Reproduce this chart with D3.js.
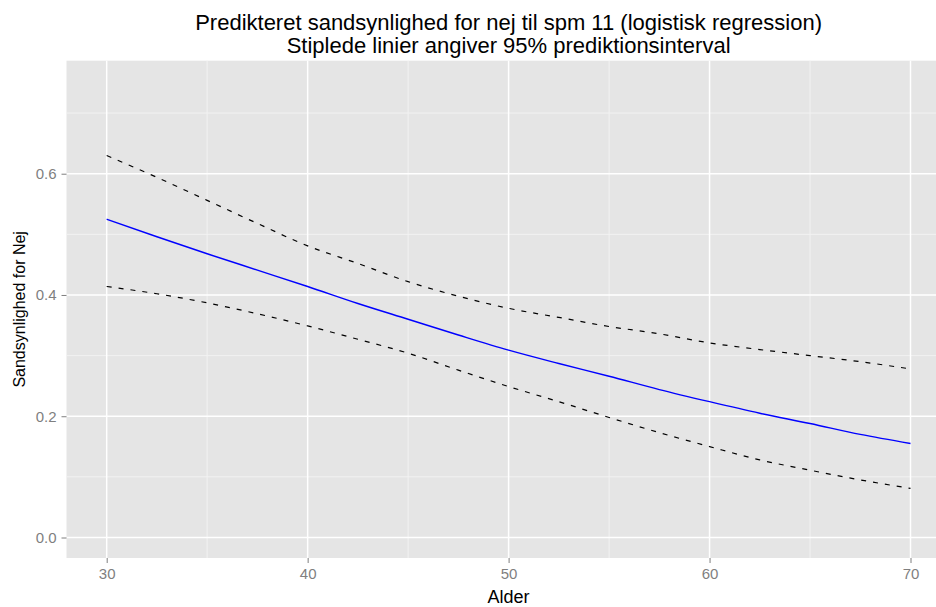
<!DOCTYPE html>
<html>
<head>
<meta charset="utf-8">
<script src="https://cdn.jsdelivr.net/npm/d3@7"></script>
<style>
  body { margin: 0; background: #fff; }
  text { font-family: "Liberation Sans", Arial, sans-serif; }
</style>
</head>
<body>
<div id="chart"></div>
<script>
// Ages and predicted probabilities
const ages  = [30, 32.5, 35, 37.5, 40, 42.5, 45, 47.5, 50, 52.5, 55, 57.5, 60, 62.5, 65, 67.5, 70];
const fit   = [0.525, 0.496, 0.468, 0.441, 0.414, 0.386, 0.360, 0.334, 0.309, 0.287, 0.266, 0.244, 0.224, 0.205, 0.188, 0.170, 0.155];
const upper = [0.630, 0.594, 0.556, 0.518, 0.481, 0.452, 0.422, 0.398, 0.378, 0.363, 0.348, 0.336, 0.321, 0.310, 0.300, 0.290, 0.278];
const lower = [0.414, 0.402, 0.387, 0.369, 0.349, 0.327, 0.304, 0.276, 0.249, 0.224, 0.198, 0.173, 0.150, 0.128, 0.111, 0.095, 0.081];

const xTicks = [30, 40, 50, 60, 70];
const yTicks = [0, 0.2, 0.4, 0.6];
const xMinor = [35, 45, 55, 65];
const yMinor = [0.1, 0.3, 0.5, 0.7];

const margin = {top: 60.7, left: 66.5},
      width = 884.2,
      height = 497.3;

const svg = d3.select('#chart').append('svg')
    .attr('width', 936)
    .attr('height', 607);

const x = d3.scaleLinear()
    .domain([28, 72])
    .range([0, width]);

const y = d3.scaleLinear()
    .domain([-0.0338, 0.7864])
    .range([height, 0]);

const g = svg.append('g')
    .attr('transform', 'translate(' + margin.left + ',' + margin.top + ')');

// panel background and grid
g.append('rect')
    .attr('width', width)
    .attr('height', height)
    .style('fill', '#e5e5e5');

g.selectAll('.minor-x')
    .data(xMinor)
  .enter().append('line')
    .attr('x1', d => x(d)).attr('x2', d => x(d))
    .attr('y1', 0).attr('y2', height)
    .style('stroke', '#f2f2f2').style('stroke-width', 1);

g.selectAll('.minor-y')
    .data(yMinor)
  .enter().append('line')
    .attr('y1', d => y(d)).attr('y2', d => y(d))
    .attr('x1', 0).attr('x2', width)
    .style('stroke', '#f2f2f2').style('stroke-width', 1);

g.selectAll('.major-x')
    .data(xTicks)
  .enter().append('line')
    .attr('x1', d => x(d)).attr('x2', d => x(d))
    .attr('y1', 0).attr('y2', height)
    .style('stroke', '#fff').style('stroke-width', 1.5);

g.selectAll('.major-y')
    .data(yTicks)
  .enter().append('line')
    .attr('y1', d => y(d)).attr('y2', d => y(d))
    .attr('x1', 0).attr('x2', width)
    .style('stroke', '#fff').style('stroke-width', 1.5);

// axes
const xAxis = d3.axisBottom(x)
    .tickValues(xTicks)
    .tickSize(5)
    .tickPadding(5)
    .tickFormat(d3.format('d'));

const yAxis = d3.axisLeft(y)
    .tickValues(yTicks)
    .tickSize(5)
    .tickPadding(5)
    .tickFormat(d3.format('.1f'));

const gx = g.append('g')
    .attr('transform', 'translate(0,' + height + ')')
    .call(xAxis);
const gy = g.append('g').call(yAxis);

[gx, gy].forEach(a => {
  a.select('.domain').remove();
  a.selectAll('line').style('stroke', '#7f7f7f');
  a.selectAll('text')
      .style('fill', '#7f7f7f')
      .style('font-size', '15px');
});

// lines
const line = vals => d3.line()
    .curve(d3.curveMonotoneX)
    .x((d, i) => x(ages[i]))
    .y(d => y(d))(vals);

[upper, lower].forEach(vals => {
  g.append('path')
      .attr('d', line(vals))
      .style('fill', 'none')
      .style('stroke', '#000')
      .style('stroke-width', 1.2)
      .style('stroke-dasharray', '5,7');
});

g.append('path')
    .attr('d', line(fit))
    .style('fill', 'none')
    .style('stroke', '#0000ff')
    .style('stroke-width', 1.4);

// titles
const cx = margin.left + width / 2;

svg.append('text')
    .attr('x', cx)
    .attr('y', 30)
    .attr('text-anchor', 'middle')
    .style('font-size', '22px')
    .text('Predikteret sandsynlighed for nej til spm 11 (logistisk regression)');

svg.append('text')
    .attr('x', cx)
    .attr('y', 53)
    .attr('text-anchor', 'middle')
    .style('font-size', '22px')
    .text('Stiplede linier angiver 95% prediktionsinterval');

svg.append('text')
    .attr('x', cx)
    .attr('y', 603)
    .attr('text-anchor', 'middle')
    .style('font-size', '18px')
    .text('Alder');

svg.append('text')
    .attr('transform', 'translate(25,' + (margin.top + height / 2) + ') rotate(-90)')
    .attr('text-anchor', 'middle')
    .style('font-size', '16px')
    .text('Sandsynlighed for Nej');
</script>
</body>
</html>
